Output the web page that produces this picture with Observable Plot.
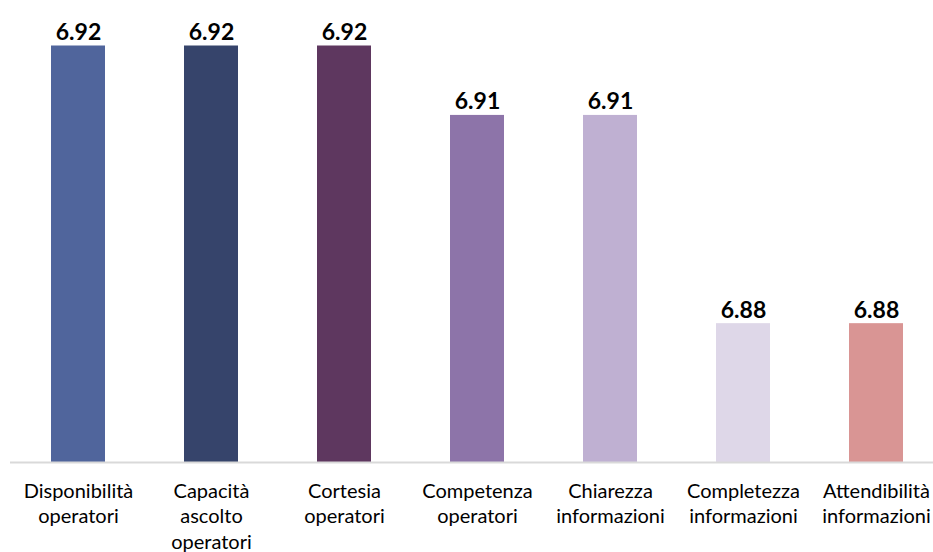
<!DOCTYPE html>
<html>
<head>
<meta charset="utf-8">
<script src="https://cdn.jsdelivr.net/npm/d3@7"></script>
<script src="https://cdn.jsdelivr.net/npm/@observablehq/plot@0.6"></script>
<style>
  html, body { margin: 0; padding: 0; background: #fff; }
  #chart { width: 933px; height: 552px; overflow: hidden; }
</style>
</head>
<body>
<div id="chart"></div>
<script>
const categories = [
  "Disponibilità\noperatori",
  "Capacità\nascolto\noperatori",
  "Cortesia\noperatori",
  "Competenza\noperatori",
  "Chiarezza\ninformazioni",
  "Completezza\ninformazioni",
  "Attendibilità\ninformazioni"
];
const values = [6.92, 6.92, 6.92, 6.91, 6.91, 6.88, 6.88];
const colors = ["#50659c", "#36446b", "#5e375f", "#8d74a9", "#bfb0d2", "#ded7e8", "#d99594"];
const baseline = 6.86;

const data = categories.map((c, i) => ({category: c, value: values[i], color: colors[i]}));

const chart = Plot.plot({
  width: 933,
  height: 552,
  marginLeft: 10,
  marginRight: 0,
  marginTop: 0,
  marginBottom: 90,
  style: {fontFamily: "Lato, 'Open Sans', sans-serif", background: "#fff", overflow: "visible"},
  x: {domain: categories, range: [10, 943], paddingInner: 0.595, paddingOuter: 0.2975, axis: null},
  y: {domain: [baseline, 6.92], range: [462, 45.5], axis: null},
  marks: [
    Plot.barY(data, {x: "category", y1: () => baseline, y2: "value", fill: "color"}),
    Plot.ruleY([baseline], {stroke: "#d9d9d9", strokeWidth: 2}),
    Plot.text(data, {
      x: "category", y: "value", text: d => d.value.toFixed(2),
      lineAnchor: "bottom", dy: -6, fontSize: 23, fontWeight: "bold", fill: "#000"
    }),
    Plot.text(data, {
      x: "category", y: () => baseline, text: "category",
      lineAnchor: "top", dy: 17, fontSize: 20, lineHeight: 1.28, fill: "#000"
    })
  ]
});
document.getElementById("chart").appendChild(chart);
</script>
</body>
</html>
